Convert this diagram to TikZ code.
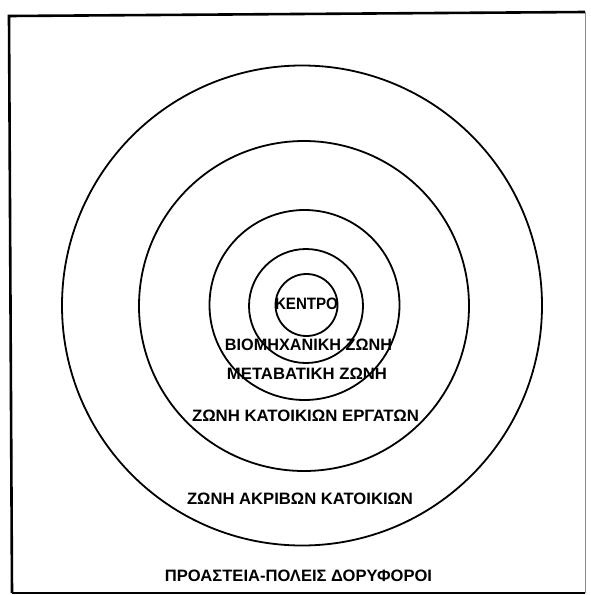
\documentclass[tikz,border=0pt]{standalone}
\usepackage{graphicx}
\usepackage{fontspec}
\setmainfont{Liberation Sans}
\newfontfamily\lblfont{Liberation Sans}
\newcommand{\fitlabel}[2]{\resizebox{#1pt}{11.5pt}{\lblfont\bfseries #2}}
\begin{document}
\begin{tikzpicture}[x=1pt,y=-1pt,
  ring/.style={draw, line width=1.8pt, circle, inner sep=0pt},
  lab/.style={inner sep=0pt, anchor=center},
  frameline/.style={line width=2.6pt}]
\useasboundingbox (0,0) rectangle (591,595);
% frame
\coordinate (tl) at (9,16);
\coordinate (tr) at (585,12);
\coordinate (br) at (585,593);
\coordinate (bl) at (12,593);
\draw[frameline] (bl) -- (tl) -- (tr);
\draw[line width=1.8pt] (bl) -- (br);
\draw[line width=0.8pt, black!45] (tr) -- (br);
% rings
\node[ring, minimum size=480pt] (r1) at (302,305.5) {};
\node[ring, minimum size=330pt] (r2) at (304,306) {};
\node[ring, minimum size=190pt] (r3) at (304.5,305) {};
\node[ring, minimum size=114pt] (r4) at (306,306) {};
\node[ring, minimum size=62pt] (r5) at (306.5,305) {};
% labels
\node[lab] (t1) at (306.5,304) {\fitlabel{63}{ΚΕΝΤΡΟ}};
\node[lab] (t2) at (308.5,345) {\fitlabel{167}{ΒΙΟΜΗΧΑΝΙΚΗ ΖΩΝΗ}};
\node[lab] (t3) at (307,374) {\fitlabel{160}{ΜΕΤΑΒΑΤΙΚΗ ΖΩΝΗ}};
\node[lab] (t4) at (305.5,415.5) {\fitlabel{227}{ΖΩΝΗ ΚΑΤΟΙΚΙΩΝ ΕΡΓΑΤΩΝ}};
\node[lab] (t5) at (300,499) {\fitlabel{226}{ΖΩΝΗ ΑΚΡΙΒΩΝ ΚΑΤΟΙΚΙΩΝ}};
\node[lab] (t6) at (298.5,575.5) {\fitlabel{267}{ΠΡΟΑΣΤΕΙΑ-ΠΟΛΕΙΣ ΔΟΡΥΦΟΡΟΙ}};
\end{tikzpicture}
\end{document}
